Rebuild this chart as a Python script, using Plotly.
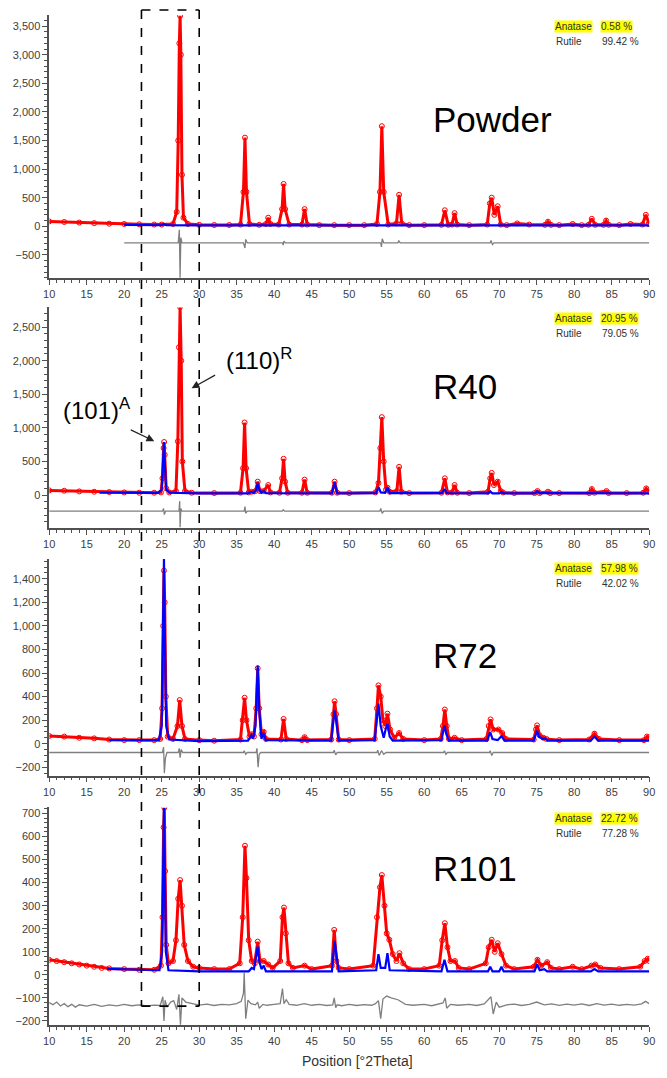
import plotly.graph_objects as go

W, H = 667, 1078

# ---------------- DATA ----------------
panel_names = ["Powder", "R40", "R72", "R101"]
anatase_pct = ["0.58 %", "20.95 %", "57.98 %", "22.72 %"]
rutile_pct = ["99.42 %", "79.05 %", "42.02 %", "77.28 %"]
x_ticks = [10, 15, 20, 25, 30, 35, 40, 45, 50, 55, 60, 65, 70, 75, 80, 85, 90]

# Powder
p1_obs_x = [10, 12, 14, 16, 18, 20, 22, 24, 25.0, 26.5, 27.0, 27.2, 27.35, 27.45, 27.55, 27.7, 27.9, 28.5, 30, 32, 34, 35.5, 35.9, 36.1, 36.3, 36.7, 38, 38.9, 39.2, 39.5, 40.6, 41.05, 41.25, 41.45, 42, 43.7, 44.05, 44.4, 46, 48, 50, 52, 53.7, 54.1, 54.35, 54.6, 55.2, 56.3, 56.65, 57.0, 58, 60, 62.3, 62.75, 63.2, 63.7, 64.05, 64.4, 66, 68.4, 68.75, 69.0, 69.35, 69.8, 70.2, 71, 72.4, 74, 76.1, 76.5, 76.9, 78, 79.8, 81, 81.9, 82.35, 82.8, 83.9, 84.25, 84.6, 86, 87.5, 89.1, 89.55, 89.9, 90]
p1_obs_y = [85, 75, 65, 55, 45, 40, 35, 30, 30, 40, 250, 1500, 3200, 3680, 3000, 900, 150, 40, 25, 22, 22, 30, 600, 1550, 600, 40, 25, 40, 150, 40, 30, 300, 740, 300, 30, 30, 300, 30, 20, 20, 20, 20, 40, 600, 1750, 600, 30, 50, 550, 50, 20, 20, 25, 280, 25, 30, 230, 30, 20, 30, 400, 500, 200, 350, 30, 20, 50, 30, 25, 80, 25, 20, 40, 20, 25, 130, 25, 25, 100, 25, 20, 40, 30, 200, 40, 40]
p1_calc_x = [20, 25.0, 25.3, 25.6, 30, 40, 50, 60, 70, 80, 90]
p1_calc_y = [25, 18, 35, 18, 15, 15, 15, 15, 15, 15, 15]
p1_diff_x = [20, 27.2, 27.35, 27.45, 27.55, 27.7, 35.9, 36.1, 36.2, 36.4, 41.1, 41.2, 41.3, 41.5, 54.2, 54.3, 54.4, 54.6, 56.5, 56.6, 56.8, 68.8, 68.9, 69.1, 69.3, 90]
p1_diff_y = [-290, -290, -60, -900, -200, -290, -290, -380, -230, -290, -290, -330, -260, -290, -290, -360, -220, -290, -290, -250, -290, -290, -250, -320, -290, -290]

# R40
p2_obs_x = [10, 12, 14, 16, 18, 20, 22, 24, 24.9, 25.1, 25.25, 25.32, 25.4, 25.6, 26.0, 26.9, 27.15, 27.3, 27.45, 27.6, 27.75, 28.1, 29, 32, 35.5, 35.85, 36.05, 36.25, 36.6, 37.0, 37.5, 37.8, 38.1, 38.6, 39.2, 39.5, 40.7, 41.05, 41.25, 41.45, 41.8, 43.7, 44.05, 44.4, 47.7, 48.05, 48.4, 50, 53.5, 53.9, 54.15, 54.35, 54.6, 54.9, 55.1, 55.4, 56.35, 56.65, 56.95, 58, 62.3, 62.75, 63.1, 63.7, 64.05, 64.4, 66, 68.5, 68.8, 69.0, 69.3, 69.8, 70.2, 70.5, 72, 74.7, 75.1, 75.4, 76.5, 76.8, 78, 82.0, 82.35, 82.7, 84.3, 84.6, 87, 89.2, 89.6, 90]
p2_obs_y = [70, 65, 55, 50, 45, 40, 35, 35, 40, 250, 700, 790, 600, 100, 40, 60, 800, 2200, 2800, 2000, 500, 60, 35, 30, 35, 400, 1080, 400, 40, 50, 60, 200, 60, 60, 150, 40, 35, 250, 540, 200, 35, 35, 230, 35, 35, 200, 35, 30, 40, 180, 700, 1160, 500, 80, 110, 50, 60, 420, 50, 30, 35, 250, 40, 40, 150, 35, 30, 50, 250, 330, 150, 200, 60, 40, 30, 30, 60, 30, 50, 30, 30, 30, 90, 35, 60, 30, 30, 35, 100, 50]
p2_calc_x = [16.7, 20, 24.5, 25.0, 25.2, 25.3, 25.4, 25.6, 26.1, 30, 36.5, 36.95, 37.3, 37.6, 37.8, 38.0, 38.3, 38.6, 38.9, 47.7, 48.05, 48.4, 53.6, 53.9, 54.2, 54.8, 55.1, 55.4, 62.4, 62.7, 63.0, 68.5, 68.8, 69.1, 70.0, 70.3, 70.6, 74.8, 75.05, 75.4, 76.0, 82.4, 82.7, 83.1, 90]
p2_calc_y = [35, 33, 32, 80, 500, 790, 500, 80, 35, 25, 25, 50, 30, 80, 180, 80, 35, 60, 30, 25, 190, 25, 30, 120, 40, 35, 110, 30, 30, 90, 30, 25, 55, 25, 25, 45, 25, 25, 60, 30, 30, 25, 35, 25, 25]
p2_diff_x = [10, 25.1, 25.25, 25.35, 25.5, 27.3, 27.4, 27.45, 27.55, 27.7, 36.0, 36.1, 36.2, 36.4, 41.1, 41.2, 41.4, 54.1, 54.2, 54.4, 54.6, 90]
p2_diff_y = [-240, -240, -200, -290, -240, -240, -90, -480, -200, -240, -240, -170, -270, -240, -240, -220, -240, -240, -200, -270, -240, -240]

# R72
p3_obs_x = [10, 12, 14, 16, 18, 20, 22, 24, 24.8, 25.05, 25.2, 25.3, 25.4, 25.55, 25.8, 26.5, 27.1, 27.4, 27.7, 28.1, 30, 32, 35.5, 35.8, 36.05, 36.3, 36.7, 37.0, 37.3, 37.6, 37.8, 38.0, 38.3, 38.6, 38.9, 40.9, 41.25, 41.6, 43.7, 44.05, 44.4, 47.6, 47.9, 48.05, 48.25, 48.6, 50, 53.4, 53.7, 53.9, 54.2, 54.5, 54.8, 55.1, 55.45, 56.0, 56.65, 57.2, 60, 62.2, 62.5, 62.75, 63.0, 63.3, 64.05, 65, 68.3, 68.6, 68.85, 69.2, 69.9, 70.4, 70.9, 74.6, 74.9, 75.05, 75.4, 75.9, 76.3, 78, 82.0, 82.7, 83.3, 86, 89.3, 89.7, 90]
p3_obs_y = [65, 60, 50, 45, 35, 30, 30, 30, 40, 300, 1000, 1470, 1200, 400, 60, 40, 150, 370, 150, 40, 30, 25, 35, 200, 390, 200, 60, 80, 60, 300, 640, 300, 80, 100, 40, 35, 210, 40, 30, 55, 30, 35, 250, 360, 250, 35, 30, 40, 300, 495, 400, 200, 150, 255, 120, 50, 90, 40, 30, 40, 150, 290, 150, 40, 50, 30, 40, 150, 206, 120, 120, 90, 40, 35, 120, 155, 70, 50, 40, 30, 35, 85, 40, 30, 30, 60, 55]
p3_calc_x = [18, 24.6, 25.0, 25.2, 25.3, 25.4, 25.6, 26.0, 30, 36.5, 36.95, 37.2, 37.5, 37.8, 38.0, 38.3, 38.55, 38.85, 47.6, 47.9, 48.05, 48.25, 48.6, 53.4, 53.7, 53.9, 54.2, 54.6, 54.85, 55.1, 55.4, 55.8, 62.3, 62.5, 62.7, 62.95, 63.3, 68.4, 68.6, 68.8, 69.1, 69.8, 70.3, 70.7, 74.6, 74.85, 75.05, 75.3, 75.8, 76.1, 76.5, 82.2, 82.7, 83.2, 90]
p3_calc_y = [30, 28, 150, 1000, 1575, 1000, 150, 35, 22, 25, 70, 45, 150, 664, 300, 40, 90, 30, 25, 200, 283, 200, 25, 30, 200, 340, 150, 50, 120, 170, 60, 25, 30, 100, 155, 80, 25, 25, 70, 99, 40, 30, 65, 25, 25, 80, 110, 60, 40, 45, 25, 25, 60, 25, 25]
p3_diff_x = [10, 25.1, 25.25, 25.35, 25.5, 25.7, 27.2, 27.35, 27.45, 27.6, 27.8, 35.9, 36.0, 36.2, 36.4, 37.6, 37.7, 37.85, 38.0, 38.2, 47.9, 48.0, 48.2, 48.4, 53.7, 53.8, 54.0, 54.3, 54.6, 54.9, 62.6, 62.7, 62.9, 63.1, 68.7, 68.8, 69.0, 69.2, 90]
p3_diff_y = [-75, -75, -30, -250, -120, -75, -75, -40, -120, -50, -75, -75, -60, -90, -75, -75, -40, -200, -90, -75, -75, -55, -95, -75, -75, -55, -100, -60, -90, -75, -75, -60, -90, -75, -75, -60, -100, -75, -75]

# R101
p4_obs_x = [10, 11, 12, 13, 14, 15, 16, 17, 18, 20, 22, 24, 24.9, 25.1, 25.25, 25.35, 25.45, 25.6, 25.9, 26.5, 26.9, 27.2, 27.45, 27.7, 28.0, 28.5, 29.2, 30, 32, 34, 35.4, 35.8, 36.1, 36.3, 36.6, 37.0, 37.4, 37.8, 38.1, 38.6, 39.2, 39.8, 40.8, 41.1, 41.3, 41.55, 41.9, 42.5, 44.05, 45, 47.7, 48.0, 48.3, 48.6, 50, 53.2, 53.7, 54.1, 54.35, 54.7, 55.0, 55.35, 55.8, 56.3, 56.7, 57.2, 58, 60, 62.0, 62.4, 62.75, 63.1, 63.5, 64.1, 64.6, 66, 68.2, 68.6, 69.0, 69.4, 69.8, 70.3, 70.9, 72, 74.6, 75.1, 75.6, 76.4, 76.9, 78, 79.8, 81, 82.3, 82.8, 83.5, 86, 88.8, 89.4, 89.8, 90]
p4_obs_y = [65, 60, 55, 50, 45, 40, 35, 30, 28, 25, 22, 22, 40, 250, 640, 725, 450, 130, 50, 60, 150, 330, 411, 300, 130, 60, 35, 30, 25, 25, 50, 250, 560, 420, 150, 60, 50, 144, 60, 60, 45, 30, 60, 250, 292, 180, 50, 30, 40, 25, 40, 195, 60, 30, 25, 40, 250, 380, 433, 300, 180, 152, 90, 60, 94, 50, 25, 25, 40, 150, 224, 120, 60, 60, 30, 25, 50, 120, 152, 100, 137, 90, 40, 25, 35, 65, 40, 55, 30, 25, 35, 25, 40, 45, 30, 25, 35, 60, 70, 60]
p4_calc_x = [17.7, 24.7, 25.05, 25.2, 25.3, 25.4, 25.55, 25.9, 30, 36.6, 37.0, 37.3, 37.6, 37.8, 38.0, 38.3, 38.6, 38.9, 47.7, 47.9, 48.05, 48.25, 48.6, 53.6, 53.9, 54.2, 54.8, 55.1, 55.4, 62.3, 62.7, 63.1, 68.5, 68.8, 69.1, 70.0, 70.3, 70.6, 74.7, 75.05, 75.4, 76.0, 76.4, 82.2, 82.7, 83.2, 90]
p4_calc_y = [26, 20, 100, 500, 725, 500, 100, 20, 15, 15, 30, 25, 80, 123, 60, 25, 40, 15, 15, 100, 147, 100, 15, 20, 90, 30, 30, 94, 20, 15, 65, 15, 15, 35, 15, 15, 35, 15, 15, 45, 20, 25, 15, 15, 25, 15, 15]
p4_diff_x = [10, 10.5, 11, 11.5, 12, 12.5, 13, 13.5, 14, 15, 16, 17, 18, 19, 20, 21, 22, 23, 24, 24.8, 25.15, 25.3, 25.45, 25.7, 26.2, 26.6, 27.0, 27.3, 27.5, 27.7, 28.2, 28.8, 29.5, 30, 31, 32, 33, 34, 35, 35.6, 35.9, 36.0, 36.2, 36.5, 36.9, 37.5, 37.8, 38, 38.5, 39, 40, 40.8, 41.1, 41.3, 41.6, 42, 43, 44, 45, 46, 47, 47.8, 48.0, 48.2, 48.4, 49, 50, 51, 52, 53, 53.5, 53.9, 54.2, 54.5, 55.0, 55.6, 56.5, 57.5, 58.5, 60, 61, 62, 62.5, 62.8, 63.0, 63.5, 64.5, 66, 67, 68, 68.5, 68.9, 69.2, 69.6, 70, 71, 72, 73, 74, 75, 76, 77, 78, 79, 80, 81, 82, 83, 84, 85, 86, 87, 88, 89, 89.5, 90]
p4_diff_y = [-120, -130, -118, -135, -125, -138, -128, -140, -130, -136, -128, -137, -130, -135, -128, -134, -130, -135, -131, -133, -95, -200, -110, -140, -118, -112, -150, -85, -216, -100, -118, -122, -128, -131, -127, -133, -128, -130, -125, -115, -80, 10, -190, -110, -125, -130, -118, -145, -128, -132, -128, -125, -60, -125, -108, -128, -132, -125, -132, -128, -133, -130, -100, -142, -130, -134, -128, -133, -129, -132, -125, -112, -190, -105, -92, -100, -108, -128, -132, -128, -134, -128, -122, -100, -145, -128, -132, -128, -133, -126, -110, -95, -170, -118, -140, -130, -127, -133, -128, -118, -130, -126, -132, -127, -131, -126, -133, -125, -131, -127, -132, -128, -131, -126, -115, -125]

y_ranges = [[-913, 3695], [-490, 2793], [-271, 1569], [-218, 726]]
y_dticks = [500, 500, 200, 100]
y_minor = [100, 100, 50, 20]

# ---------------- LAYOUT (pixel geometry) ----------------
plot_left, plot_right = 44, 655
panel_top = [15, 308, 560, 809]
panel_bot = [279, 529, 777, 1027]

def px(x):
    return x / W

def py(y):
    return 1 - y / H

obs = [(p1_obs_x, p1_obs_y), (p2_obs_x, p2_obs_y), (p3_obs_x, p3_obs_y), (p4_obs_x, p4_obs_y)]
calc = [(p1_calc_x, p1_calc_y), (p2_calc_x, p2_calc_y), (p3_calc_x, p3_calc_y), (p4_calc_x, p4_calc_y)]
diff = [(p1_diff_x, p1_diff_y), (p2_diff_x, p2_diff_y), (p3_diff_x, p3_diff_y), (p4_diff_x, p4_diff_y)]

fig = go.Figure()
FONT = "Liberation Sans, Arial, sans-serif"
axis_col = "#505050"

for i in range(4):
    sx = "x" if i == 0 else f"x{i+1}"
    sy = "y" if i == 0 else f"y{i+1}"
    fig.add_trace(go.Scatter(x=diff[i][0], y=diff[i][1], mode="lines",
                             line=dict(color="#7f7f7f", width=1.3), xaxis=sx, yaxis=sy,
                             showlegend=False, hoverinfo="skip"))
    fig.add_trace(go.Scatter(x=obs[i][0], y=obs[i][1], mode="lines+markers",
                             line=dict(color="#ff0000", width=3),
                             marker=dict(symbol="circle-open", size=5, color="#ff0000", line=dict(width=1)),
                             xaxis=sx, yaxis=sy, showlegend=False, hoverinfo="skip"))
    fig.add_trace(go.Scatter(x=calc[i][0], y=calc[i][1], mode="lines",
                             line=dict(color="#0000ff", width=2.2), xaxis=sx, yaxis=sy,
                             showlegend=False, hoverinfo="skip"))

    xa = dict(domain=[px(plot_left), px(plot_right)], range=[10, 90], anchor=sy,
              tickmode="array", tickvals=x_ticks, ticktext=[str(t) for t in x_ticks],
              showline=True, linecolor=axis_col, linewidth=1.5, ticks="outside", ticklen=5,
              tickcolor=axis_col, tickwidth=1.2,
              minor=dict(dtick=1, ticks="outside", ticklen=3, tickcolor=axis_col),
              showgrid=False, zeroline=False,
              tickfont=dict(family=FONT, size=11, color="#404040"))
    ya = dict(domain=[py(panel_bot[i]), py(panel_top[i])], range=y_ranges[i], anchor=sx,
              dtick=y_dticks[i], tick0=0, tickformat=",d",
              showline=True, linecolor=axis_col, linewidth=1.5, ticks="outside", ticklen=5,
              tickcolor=axis_col, tickwidth=1.2,
              minor=dict(dtick=y_minor[i], ticks="outside", ticklen=3, tickcolor=axis_col),
              showgrid=False, zeroline=False,
              tickfont=dict(family=FONT, size=11, color="#404040"))
    fig.layout["xaxis" if i == 0 else f"xaxis{i+1}"] = xa
    fig.layout["yaxis" if i == 0 else f"yaxis{i+1}"] = ya

annotations = []
name_y = [120, 387, 657, 870]
leg_y = [27, 319, 570, 820]
for i in range(4):
    annotations.append(dict(text=panel_names[i], x=px(433), y=py(name_y[i]), xref="paper", yref="paper",
                            xanchor="left", yanchor="middle", showarrow=False,
                            font=dict(family=FONT, size=35, color="#000000")))
    annotations.append(dict(text="Anatase", x=px(558), y=py(leg_y[i]), xref="paper", yref="paper",
                            xanchor="left", yanchor="middle", showarrow=False, bgcolor="#ffff00", borderpad=0,
                            font=dict(family=FONT, size=10, color="#303030")))
    annotations.append(dict(text=anatase_pct[i], x=px(605), y=py(leg_y[i]), xref="paper", yref="paper",
                            xanchor="left", yanchor="middle", showarrow=False, bgcolor="#ffff00", borderpad=0,
                            font=dict(family=FONT, size=10, color="#303030")))
    annotations.append(dict(text="Rutile", x=px(558), y=py(leg_y[i] + 15), xref="paper", yref="paper",
                            xanchor="left", yanchor="middle", showarrow=False,
                            font=dict(family=FONT, size=10, color="#303030")))
    annotations.append(dict(text=rutile_pct[i], x=px(605), y=py(leg_y[i] + 15), xref="paper", yref="paper",
                            xanchor="left", yanchor="middle", showarrow=False,
                            font=dict(family=FONT, size=10, color="#303030")))

# peak labels with arrows
annotations.append(dict(text="(101)<sup>A</sup>", x=px(56), y=py(410), xref="paper", yref="paper",
                        xanchor="left", yanchor="middle", showarrow=False,
                        font=dict(family=FONT, size=24, color="#000000")))
annotations.append(dict(text="", x=px(151), y=py(442), xref="paper", yref="paper", showarrow=True,
                        ax=-25, ay=-12, arrowhead=2, arrowsize=1.3, arrowwidth=1.2, arrowcolor="#222222"))
annotations.append(dict(text="(110)<sup>R</sup>", x=px(222), y=py(360), xref="paper", yref="paper",
                        xanchor="left", yanchor="middle", showarrow=False,
                        font=dict(family=FONT, size=24, color="#000000")))
annotations.append(dict(text="", x=px(189), y=py(389), xref="paper", yref="paper", showarrow=True,
                        ax=25, ay=-14, arrowhead=2, arrowsize=1.3, arrowwidth=1.2, arrowcolor="#222222"))
annotations.append(dict(text="Position [°2Theta]", x=px(358), y=py(1063), xref="paper", yref="paper",
                        xanchor="center", yanchor="middle", showarrow=False,
                        font=dict(family=FONT, size=14, color="#333333")))

# dashed region box
box_x0, box_x1 = 22.3, 30.0
box_top, box_bot = 10, 1008
shapes = [
    dict(type="line", xref="x", yref="paper", x0=box_x0, x1=box_x0, y0=py(box_top), y1=py(box_bot),
         line=dict(color="#000000", width=1.6, dash="dash")),
    dict(type="line", xref="x", yref="paper", x0=box_x1, x1=box_x1, y0=py(box_top), y1=py(box_bot),
         line=dict(color="#000000", width=1.6, dash="dash")),
    dict(type="line", xref="x", yref="paper", x0=box_x0, x1=box_x1, y0=py(box_top), y1=py(box_top),
         line=dict(color="#000000", width=1.6, dash="dash")),
    dict(type="line", xref="x", yref="paper", x0=box_x0, x1=box_x1, y0=py(box_bot), y1=py(box_bot),
         line=dict(color="#000000", width=1.6, dash="dash")),
]

fig.update_layout(width=W, height=H, margin=dict(l=0, r=0, t=0, b=0),
                  paper_bgcolor="white", plot_bgcolor="white",
                  annotations=annotations, shapes=shapes, showlegend=False)

fig.write_html("out.html")
